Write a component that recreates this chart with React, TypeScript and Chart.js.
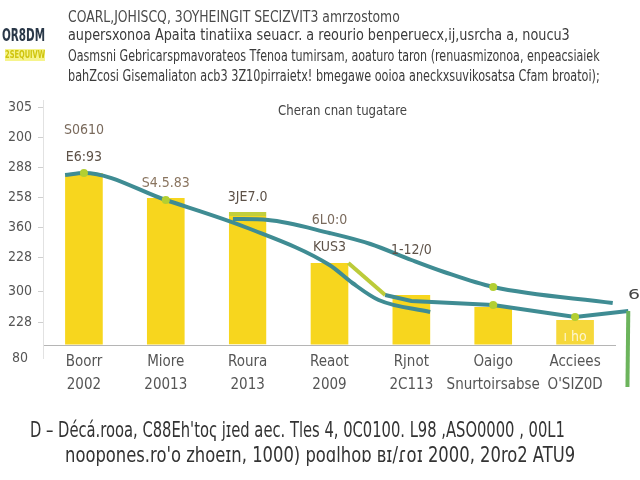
import React, { useEffect, useLayoutEffect, useRef } from "react";
import { Chart, registerables } from "chart.js";

Chart.register(...registerables);

const FONT = "'DejaVu Sans Condensed', 'Liberation Sans Narrow', Roboto, sans-serif";

const categories = [
  ["Boorr", "2002"],
  ["Miore", "20013"],
  ["Roura", "2013"],
  ["Reaot", "2009"],
  ["Rjnot", "2C113"],
  ["Oaigo", "Snurtoirsabse"],
  ["Acciees", "O'SIZ0D"],
];
const barValues = [172, 147, 133, 82, 50, 38, 25];
const barLabelsUpper = ["S0610", "", "", "6L0:0", "", "", ""];
const barLabelsLower = ["E6:93", "S4.5.83", "3JE7.0", "KUS3", "1-12/0", "", "ı ho"];
const yTickValues = [238, 208, 178, 148, 118, 88, 54, 23, -13];
const yTickLabels = ["305", "200", "288", "258", "360", "228", "300", "228", "80"];
const lineA = [
  { x: -0.23, y: 170 }, { x: 0, y: 172 }, { x: 1, y: 145 }, { x: 2, y: 117 },
  { x: 3, y: 80 }, { x: 3.28, y: 62 }, { x: 3.6, y: 45 }, { x: 4.23, y: 33 },
];
const lineB = [
  { x: 1.82, y: 126 }, { x: 2.25, y: 125 }, { x: 3, y: 112 }, { x: 3.5, y: 101 },
  { x: 4, y: 85 }, { x: 4.4, y: 73 }, { x: 5, y: 58 }, { x: 6.46, y: 42 },
];
const lineC = [
  { x: 3.23, y: 82 }, { x: 3.68, y: 50 }, { x: 4, y: 44 }, { x: 5, y: 40 },
  { x: 6, y: 28 }, { x: 6.65, y: 34 }, { x: 6.64, y: -42 },
];

const lowerOffsets = [16, 15, 15, 16, 45, 0, -17];
const upperOffset = 43;

const barLabelPlugin = {
  id: "barLabels",
  afterDatasetsDraw(chart: any) {
    const meta = chart.getDatasetMeta(0);
    const ctx = chart.ctx;
    ctx.save();
    ctx.textAlign = "center";
    ctx.textBaseline = "middle";
    meta.data.forEach((bar: any, i: number) => {
      ctx.font = `14px ${FONT}`;
      if (barLabelsLower[i]) {
        ctx.fillStyle = i === 6 ? "rgba(255,255,255,0.75)" : i === 1 ? "#8a7560" : "#5e5248";
        ctx.fillText(barLabelsLower[i], bar.x, bar.y - lowerOffsets[i]);
      }
      if (barLabelsUpper[i]) {
        ctx.fillStyle = "#7a6a5c";
        ctx.fillText(barLabelsUpper[i], bar.x, bar.y - upperOffset);
      }
    });
    ctx.restore();
  },
};

// lift the x-axis box a little so its (two-line) labels sit just under the zero line without clipping
const xAxisLift = {
  id: "xAxisLift",
  afterLayout(chart: any) {
    const s = chart.scales.x;
    if (s) s.top = chart.scales.y.getPixelForValue(0) + 4;
  },
};

const TEAL = "#3f8c93";
const DOT = "#b3cf32";

function Fit(props: { left: number; top: number; width: number; size: number; text: string; style?: any }) {
  const ref = useRef<HTMLSpanElement>(null);
  useLayoutEffect(() => {
    const el = ref.current;
    if (!el) return;
    el.style.transform = "none";
    const w = el.offsetWidth;
    if (w > 0) el.style.transform = `scaleX(${props.width / w})`;
  }, []);
  return (
    <span
      ref={ref}
      style={{
        position: "absolute",
        left: props.left,
        top: props.top,
        fontSize: props.size,
        lineHeight: `${props.size + 4}px`,
        whiteSpace: "nowrap",
        display: "inline-block",
        transformOrigin: "0 0",
        color: "#3a3a3a",
        fontFamily: FONT,
        ...(props.style || {}),
      }}
    >
      {props.text}
    </span>
  );
}

export default function App() {
  const ref = useRef<HTMLCanvasElement>(null);
  useEffect(() => {
    if (!ref.current) return;
    const chart = new Chart(ref.current, {
      type: "bar",
      data: {
        datasets: [
          {
            type: "bar",
            data: barValues.map((v, i) => ({ x: i, y: v })),
            backgroundColor: (c: any) => (c.dataIndex === 6 ? "#F6D83A" : "#F7D61E"),
            borderColor: "#c2cf3c",
            borderWidth: (c: any) =>
              c.dataIndex === 2 ? { top: 4, left: 0, right: 0, bottom: 0 } : 0,
            borderSkipped: false,
            barPercentage: 0.46,
            categoryPercentage: 1,
            order: 2,
          } as any,
          {
            type: "line",
            data: lineA,
            borderColor: TEAL,
            borderWidth: 4,
            cubicInterpolationMode: "monotone",
            pointRadius: lineA.map((_, i) => (i === 1 || i === 2 ? 4 : 0)),
            pointBackgroundColor: DOT,
            pointBorderWidth: 0,
            order: 0,
          },
          {
            type: "line",
            data: lineB,
            borderColor: TEAL,
            borderWidth: 4,
            cubicInterpolationMode: "monotone",
            pointRadius: lineB.map((_, i) => (i === 6 ? 4 : 0)),
            pointBackgroundColor: DOT,
            pointBorderWidth: 0,
            order: 0,
          },
          {
            type: "line",
            data: lineC,
            borderColor: TEAL,
            borderWidth: 4,
            tension: 0,
            clip: false,
            segment: {
              borderColor: (c: any) =>
                c.p0DataIndex === 0 ? "#bccb3a" : c.p0DataIndex === 5 ? "#6cb45c" : TEAL,
            },
            pointRadius: lineC.map((_, i) => (i === 3 || i === 4 ? 4 : 0)),
            pointBackgroundColor: DOT,
            pointBorderWidth: 0,
            order: 0,
          } as any,
        ],
      },
      options: {
        responsive: false,
        animation: false,
        layout: { padding: { top: 100, bottom: 80, left: 0, right: 24 } },
        plugins: { legend: { display: false }, tooltip: { enabled: false } },
        scales: {
          x: {
            type: "linear",
            min: -0.5,
            max: 6.5,
            offset: false,
            grid: { display: false, drawTicks: false, offset: false },
            border: { display: false },
            afterBuildTicks: (s: any) => {
              s.ticks = categories.map((_, i) => ({ value: i }));
            },
            ticks: {
              callback: (v: any) => categories[Number(v)] || "",
              font: { size: 15, family: FONT, lineHeight: 1.5 },
              color: "#555",
              padding: 2,
              maxRotation: 0,
              autoSkip: false,
            },
            afterFit: (s: any) => {
              s.height = 42;
            },
          },
          y: {
            min: -13,
            max: 245,
            afterBuildTicks: (s: any) => {
              s.ticks = [...yTickValues, 0].sort((a, b) => b - a).map((v) => ({ value: v }));
            },
            ticks: {
              callback: (v: any) => {
                const i = yTickValues.indexOf(Number(v));
                return i >= 0 ? yTickLabels[i] : "";
              },
              font: { size: 14, family: FONT },
              color: "#555",
              padding: 6,
              crossAlign: "center",
            },
            grid: {
              color: (c: any) => (c.tick && c.tick.value === 0 ? "#b5b5b5" : "transparent"),
              tickColor: (c: any) =>
                c.tick && (c.tick.value === 0 || c.tick.value === -13) ? "transparent" : "#cfcfcf",
              tickLength: 5,
            },
            border: { color: "#e2e2e2" },
            afterFit: (s: any) => {
              s.width = 43;
            },
          },
        },
      } as any,
      plugins: [barLabelPlugin, xAxisLift],
    });
    return () => chart.destroy();
  }, []);

  return (
    <div
      style={{
        position: "absolute",
        left: 0,
        top: 0,
        width: 640,
        height: 480,
        overflow: "hidden",
        background: "#fff",
      }}
    >
      <canvas ref={ref} width={640} height={480} style={{ position: "absolute", left: 0, top: 0 }} />
      <Fit left={68} top={8} width={332} size={15} text="COARL,JOHISCQ, 3OYHEINGIT SECIZVIT3 amrzostomo" style={{ color: "#4a4a4a" }} />
      <Fit left={2} top={24} width={43} size={18} text="OR8DM" style={{ fontWeight: 700, color: "#2a3848" }} />
      <Fit left={68} top={25} width={502} size={16} text="aupersxonoa Apaita tinatiixa seuacr. a reourio benperuecx,ij,usrcha a, noucu3" />
      <Fit
        left={5}
        top={49}
        width={40}
        size={10}
        text="2SEQUIVW"
        style={{ fontWeight: 700, color: "#cfc40c", background: "#f6f48c", lineHeight: "12px" }}
      />
      <Fit left={68} top={46} width={532} size={16} text="Oasmsni Gebricarspmavorateos Tfenoa tumirsam, aoaturo taron (renuasmizonoa, enpeacsiaiek" />
      <Fit left={68} top={66} width={532} size={16} text="bahZcosi Gisemaliaton acb3 3Z10pirraietx! bmegawe ooioa aneckxsuvikosatsa Cfam broatoi);" />
      <Fit left={278} top={101} width={129} size={14} text="Cheran cnan tugatare" style={{ color: "#444" }} />
      <Fit left={628} top={285} width={12} size={14} text="6" style={{ color: "#444" }} />
      <Fit
        left={30}
        top={418}
        width={535}
        size={21}
        text="D – Décá.rooa, C88Eh'toҁ jɪed aec. Tles 4, 0C0100. L98 ,ASO0000 , 00L1"
        style={{ color: "#333" }}
      />
      <Fit
        left={65}
        top={443}
        width={510}
        size={21}
        text="noopones.ro'o zhoeɪn, 1000) poɑlhoɒ ʙɪ/ɾoɪ 2000, 20ro2 ATU9"
        style={{ color: "#333" }}
      />
    </div>
  );
}
